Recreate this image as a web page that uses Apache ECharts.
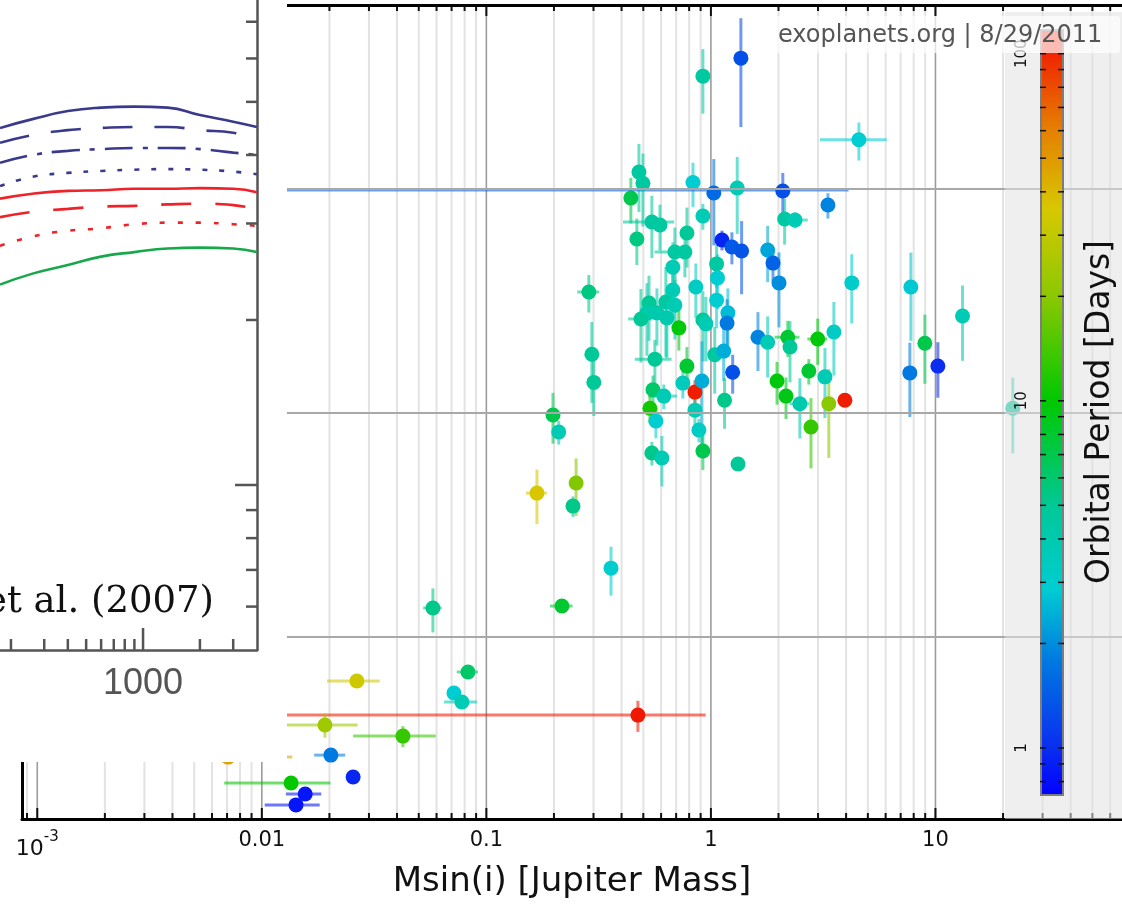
<!DOCTYPE html>
<html><head><meta charset="utf-8">
<script src="https://cdn.jsdelivr.net/npm/echarts@6.0.0/dist/echarts.min.js"></script>
<style>html,body{margin:0;padding:0;background:#fff}#c{width:1122px;height:911px}</style>
</head><body><div id="c"></div>
<script>
// ---------------- main scatter data ----------------
const massJ = [0.921,1.36,4.56,0.478,0.498,0.440,0.832,1.03,1.31,2.09,0.0015,3.32,0.921,0.546,0.593,0.782,0.468,2.13,2.37,1.12,1.24,1.37,1.79,1.89,0.691,0.766,1.06,0.677,0.286,0.677,0.857,1.07,2.01,1.06,1.19,1.18,0.630,0.691,0.530,0.575,0.519,0.488,0.637,0.720,0.921,0.950,0.295,0.563,0.782,1.04,1.14,1.25,1.62,1.79,2.20,2.25,2.99,3.53,4.24,7.77,13.2,8.97,7.69,10.25,2.73,3.22,0.301,0.552,0.617,0.750,0.849,0.912,1.15,1.97,2.16,2.49,3.35,3.95,2.79,0.198,0.210,0.535,0.569,0.849,0.884,0.921,0.546,0.605,1.32,0.168,0.251,0.243,0.359,0.217,0.0578,0.0717,0.0778,0.0828,0.473,0.0265,0.0191,0.0425,0.0203,0.00707,0.0255,0.0135,0.0156,0.0142,22.1];
const massErr = [0,0,1.5,0,0,0,0,0,0,0,4.1,0,0,0.14,0,0,0,0,0.33,0,0,0,0,0,0.13,0,0,0,0.032,0,0,0,0,0,0,0,0,0,0,0,0,0.06,0,0,0,0,0,0.105,0,0,0,0,0,0,0.28,0,0.3,0,0,0,0,0,0,0,0,0,0,0,0.09,0,0,0,0,0,0,0.25,0,0,0,0,0,0,0.04,0,0.05,0.06,0,0,0,0.018,0,0,0,0.025,0.0055,0,0.013,0.009,0.475,0.0070,0.0076,0.017,0.0032,0.0066,0,0.0067,0.0028,0.0039,0];
const yValue = [31.9,38.4,16.6,11.9,10.6,9.12,10.7,9.60,10.1,9.80,9.90,8.48,7.58,7.12,6.91,6.36,5.98,7.35,7.27,5.92,5.51,5.29,5.34,4.67,5.23,5.23,4.63,4.48,3.47,3.54,3.65,4.01,3.81,3.19,2.80,2.52,3.13,3.03,3.10,2.80,2.80,2.63,2.66,2.40,2.60,2.50,1.83,1.74,1.62,1.82,1.89,1.52,2.18,2.07,2.18,1.97,2.14,2.30,3.81,3.65,2.71,2.05,1.51,1.62,1.54,1.45,1.37,1.27,1.19,1.36,1.24,1.39,1.14,1.39,1.19,1.10,1.10,1.14,0.866,0.980,0.823,1.05,0.921,1.03,0.840,0.677,0.663,0.630,0.592,0.439,0.487,0.384,0.203,0.1375,0.1348,0.0562,0.0513,0.0698,0.0448,0.0636,0.0405,0.0361,0.0297,0.0291,0.0237,0.0223,0.0199,0.0178,1.05];
const yErr = [10.2,19.5,3.2,4.0,3.8,2.1,2.4,4.0,3.8,2.0,0,1.1,1.0,2.2,1.6,1.9,1.4,1.7,0.6,0.6,0.9,1.9,1.5,0.8,1.5,1.2,1.0,1.3,0.66,0.9,1.0,1.1,1.4,0.8,0.8,0.7,1.35,0.9,1.0,0.8,1.0,0.95,0.9,0.5,0.9,0.8,0.72,0.38,0.35,0.6,0.5,0.3,0.64,0.63,0.4,0.6,0.5,0.83,1.3,1.55,1.0,0.7,0.55,0.45,0.2,0.5,0.4,0.2,0.15,0.2,0.16,0.7,0.29,0.3,0.25,0.33,0.47,0,0.3,0.25,0.1,0.15,0.15,0.15,0.1,0.12,0.08,0.16,0,0.12,0.14,0.04,0.05,0,0.03,0,0,0,0.0071,0,0.005,0.0039,0,0,0,0,0,0,0.39];
const periodDays = [4.5,1.3,2.9,4.5,4.5,7,2.9,1.6,3.8,1.3,1.4,1.9,3.8,4.5,4.5,5,5.5,4.5,3.8,0.95,1.4,1.35,2.3,1.5,4.5,4.5,4.5,3.8,5.5,3.8,3.3,2.9,2.0,2.9,2.6,1.8,4.5,3.8,5,4,4,5,4,9.5,5,3.8,5,5,8,4.5,2.4,1.3,1.9,3.8,8,5,9.5,3.3,3.1,2.8,3.8,7,1.8,1.0,8,3.8,5,6.2,3.8,3.5,110,2.4,5.3,9.5,9,4,20,111,13,7,3.8,11,2.9,3.8,3.3,7,5.3,3.8,5,36,19,5.3,3,8,5.3,2.9,3.8,6.2,118,33,23,13,1.8,46,0.95,10.3,0.85,0.84,4.5];

// ---------------- colour scale for orbital period (log10 days) ----------------
const periodStopsLog = [-0.14, 0, 0.25, 0.46, 0.7, 1.0, 1.3, 1.55, 1.8, 2.0, 2.1];
const periodStopColors = [[0,0,255],[10,45,240],[0,120,225],[0,205,210],[0,200,150],[0,200,0],[140,200,0],[215,200,0],[230,120,0],[240,35,0],[240,20,0]];
const colorbarTickLabels = ['1','10','100'];

// ---------------- inset (model curves) ----------------
const insetMass = [175, 260, 400, 600, 900, 1350, 2000, 3000, 4000];
const curveNavySolid  = [4.48, 4.65, 4.81, 4.88, 4.90, 4.88, 4.73, 4.60, 4.50];
const curveNavyDash   = [4.21, 4.35, 4.44, 4.48, 4.50, 4.50, 4.44, 4.39, 4.28];
const curveNavyDashDot= [3.87, 4.00, 4.07, 4.10, 4.12, 4.12, 4.10, 4.04, 4.00];
const curveNavyDot    = [3.51, 3.65, 3.71, 3.74, 3.76, 3.77, 3.76, 3.73, 3.69];
const curveRedSolid   = [3.33, 3.40, 3.44, 3.45, 3.47, 3.47, 3.48, 3.47, 3.42];
const curveRedDash    = [3.08, 3.15, 3.19, 3.22, 3.23, 3.25, 3.26, 3.24, 3.19];
const curveRedDot     = [2.73, 2.84, 2.91, 2.94, 2.99, 3.01, 3.01, 2.99, 2.97];
const curveGreen      = [2.32, 2.43, 2.52, 2.61, 2.66, 2.70, 2.71, 2.70, 2.66];
const insetXTicks = [200,300,400,500,600,700,800,900,1000,2000,3000];
const insetYTicks = [0.6,0.7,0.8,0.9,1,2,3,4,5,6,7];

// ---------------- axis ranges ----------------
const X_MIN = 0.000855, X_MAX = 100, Y_MIN = 0.0154, Y_MAX = 66.3;
const CB_MIN = 0.732, CB_MAX = 117;
const IX_MIN = 175, IX_MAX = 4009, IY_MIN = 0.5, IY_MAX = 7.67;

function periodColor(p, a) {
  const l = Math.log10(p);
  let i = 0;
  while (i < periodStopsLog.length - 2 && l > periodStopsLog[i + 1]) i++;
  let t = (l - periodStopsLog[i]) / (periodStopsLog[i + 1] - periodStopsLog[i]);
  t = Math.max(0, Math.min(1, t));
  const c0 = periodStopColors[i], c1 = periodStopColors[i + 1];
  const c = c0.map((v, k) => Math.round(v + (c1[k] - v) * t));
  return a == null ? 'rgb(' + c.join(',') + ')' : 'rgba(' + c.join(',') + ',' + a + ')';
}

// tick positions (decade multiples)
const mult = [1,2,3,4,5,6,7,8,9];
const xGridData = [];
for (let e = -4; e <= 1; e++) for (const m of mult) {
  const v = m * Math.pow(10, e);
  if (v > X_MIN && v <= X_MAX) xGridData.push([v, 1, m === 1 ? 1 : 0]);
}
const cbTickData = [];
for (let e = -1; e <= 2; e++) for (const m of mult) {
  const v = m * Math.pow(10, e);
  if (v > CB_MIN && v < CB_MAX) cbTickData.push([0.5, v]);
}

const FONT = 'DejaVu Sans';
const chart = echarts.init(document.getElementById('c'), null, {renderer: 'canvas'});

const cbLogMax = Math.log10(CB_MAX), cbLogMin = Math.log10(CB_MIN);
const cbStops = periodStopsLog.map((l, i) => ({
  offset: Math.max(0, Math.min(1, (cbLogMax - l) / (cbLogMax - cbLogMin))),
  color: 'rgb(' + periodStopColors[i].join(',') + ')'
})).sort((a, b) => a.offset - b.offset);

function logLabel(v) {
  const e = Math.round(Math.log10(v));
  if (Math.abs(Math.log10(v) - e) > 1e-6) return '';
  return e;
}

const errData = massJ.map((m, i) => [m, yValue[i], massErr[i], yErr[i], periodDays[i]]);
const ptData = massJ.map((m, i) => [m, yValue[i], periodDays[i]]);

function insetLine(name, vals, color, type) {
  return {
    type: 'line', name, xAxisIndex: 3, yAxisIndex: 2, z: 60, smooth: 0.5, symbol: 'none',
    data: insetMass.map((m, i) => [m, vals[i]]),
    lineStyle: {color, width: 2.6, type}
  };
}

const option = {
  animation: false,
  backgroundColor: '#fff',
  grid: [
    {left: 22, top: 5, width: 1138, height: 814, outerBoundsMode: 'none', containLabel: false},
    {left: 1041, top: 30, width: 22, height: 765, outerBoundsMode: 'none', containLabel: false},
    {left: 0, top: 0, width: 257, height: 650, outerBoundsMode: 'none', containLabel: false}
  ],
  xAxis: [
    {type: 'log', gridIndex: 0, min: X_MIN, max: X_MAX, position: 'bottom', z: 5,
     axisLine: {show: true, lineStyle: {color: '#000', width: 3}},
     axisTick: {show: false}, splitLine: {show: false},
     axisLabel: {show: true, margin: 11, color: '#111', fontFamily: FONT, fontSize: 22,
       showMinLabel: false, showMaxLabel: false,
       formatter: v => { const e = logLabel(v); if (e === '') return '';
         if (e === -3) return '{b|10}{s|-3}';
         return '{n|' + ({'-2': '0.01', '-1': '0.1', '0': '1', '1': '10'}[String(e)] || '') + '}'; },
       rich: {n: {fontFamily: FONT, fontSize: 21, color: '#111'},
              b: {fontFamily: FONT, fontSize: 22, color: '#111', verticalAlign: 'bottom', lineHeight: 30},
              s: {fontFamily: FONT, fontSize: 15, color: '#111', verticalAlign: 'top', lineHeight: 15}}}},
    {type: 'log', gridIndex: 0, min: X_MIN, max: X_MAX, position: 'top', z: 5,
     axisLine: {show: true, lineStyle: {color: '#000', width: 3}},
     axisTick: {show: false}, splitLine: {show: false}, axisLabel: {show: false}},
    {type: 'value', gridIndex: 1, min: 0, max: 1, show: false},
    {type: 'log', gridIndex: 2, min: IX_MIN, max: IX_MAX, position: 'bottom', z: 60,
     axisLine: {show: true, lineStyle: {color: '#555', width: 2.5}},
     axisTick: {show: false}, splitLine: {show: false},
     axisLabel: {show: true, margin: 16, color: '#555', fontFamily: 'Liberation Sans', fontSize: 36,
       showMinLabel: false, showMaxLabel: false,
       formatter: v => (logLabel(v) === 3 ? '1000' : '')}}
  ],
  yAxis: [
    {type: 'log', gridIndex: 0, min: Y_MIN, max: Y_MAX, position: 'left', z: 5,
     axisLine: {show: true, lineStyle: {color: '#000', width: 3}},
     axisTick: {show: false}, axisLabel: {show: false},
     splitLine: {show: true, lineStyle: {color: '#a8a8a8', width: 2}}},
    {type: 'log', gridIndex: 1, min: CB_MIN, max: CB_MAX, position: 'left', z: 20,
     axisLine: {show: false}, axisTick: {show: false}, splitLine: {show: false},
     axisLabel: {show: true, rotate: 90, margin: 11, color: '#111', fontFamily: FONT, fontSize: 15,
       showMinLabel: false, showMaxLabel: false,
       formatter: v => { const e = logLabel(v); return (e === '' ? '' : (colorbarTickLabels[e] || '')); }}},
    {type: 'log', gridIndex: 2, min: IY_MIN, max: IY_MAX, position: 'right', z: 60,
     axisLine: {show: true, lineStyle: {color: '#555', width: 2.5}},
     axisTick: {show: false}, axisLabel: {show: false}, splitLine: {show: false}}
  ],
  series: [
    // vertical grid lines + top/bottom ticks of the main chart
    {type: 'custom', xAxisIndex: 0, yAxisIndex: 0, z: 1, silent: true,
     encode: {x: 0, y: 1}, data: xGridData,
     renderItem: (params, api) => {
       const v = api.value(0), major = api.value(2);
       const top = api.coord([v, Y_MAX]), bot = api.coord([v, Y_MIN]);
       const x = top[0], tl = major ? 11 : 6;
       return {type: 'group', children: [
         {type: 'line', shape: {x1: x, y1: top[1], x2: x, y2: bot[1]},
          style: {stroke: major ? '#9c9c9c' : '#e3e3e3', lineWidth: major ? 1.6 : 2}},
         {type: 'line', shape: {x1: x, y1: bot[1], x2: x, y2: bot[1] - tl}, style: {stroke: '#111', lineWidth: 2}},
         {type: 'line', shape: {x1: x, y1: top[1], x2: x, y2: top[1] + tl}, style: {stroke: '#111', lineWidth: 2}}
       ]};
     }},
    // error bars
    {type: 'custom', xAxisIndex: 0, yAxisIndex: 0, z: 2, silent: true,
     encode: {x: 0, y: 1}, data: errData,
     renderItem: (params, api) => {
       const m = api.value(0), y = api.value(1), mx = api.value(2), ye = api.value(3), p = api.value(4);
       const col = periodColor(p, 0.58), ch = [];
       if (mx > 0) {
         const a = api.coord([Math.max(m - mx, X_MIN), y]), b = api.coord([m + mx, y]);
         ch.push({type: 'line', shape: {x1: a[0], y1: a[1], x2: b[0], y2: b[1]}, style: {stroke: col, lineWidth: 3}});
       }
       if (ye > 0) {
         const a = api.coord([m, Math.max(y - ye, Y_MIN)]), b = api.coord([m, y + ye]);
         ch.push({type: 'line', shape: {x1: a[0], y1: a[1], x2: b[0], y2: b[1]}, style: {stroke: col, lineWidth: 3}});
       }
       return {type: 'group', children: ch};
     }},
    // planets
    {type: 'scatter', xAxisIndex: 0, yAxisIndex: 0, z: 3, symbolSize: 15,
     data: ptData, itemStyle: {opacity: 1, color: params => periodColor(params.value[2])}},
    // colour bar
    {type: 'custom', xAxisIndex: 2, yAxisIndex: 1, z: 20, silent: true,
     encode: {x: 0, y: 1}, data: [[0, CB_MIN]],
     renderItem: (params, api) => {
       const tl = api.coord([0, CB_MAX]), br = api.coord([1, CB_MIN]);
       return {type: 'rect', shape: {x: tl[0], y: tl[1], width: br[0] - tl[0], height: br[1] - tl[1]},
         style: {fill: new echarts.graphic.LinearGradient(0, 0, 0, 1, cbStops), stroke: '#7d7d7d', lineWidth: 2}};
     }},
    {type: 'custom', xAxisIndex: 2, yAxisIndex: 1, z: 21, silent: true,
     encode: {x: 0, y: 1}, data: cbTickData,
     renderItem: (params, api) => {
       const v = api.value(1), l = api.coord([0, v]), r = api.coord([1, v]);
       return {type: 'group', children: [
         {type: 'line', shape: {x1: l[0] - 1, y1: l[1], x2: l[0] + 5, y2: l[1]}, style: {stroke: '#111', lineWidth: 1.5}},
         {type: 'line', shape: {x1: r[0] - 5, y1: r[1], x2: r[0] + 1, y2: r[1]}, style: {stroke: '#111', lineWidth: 1.5}}
       ]};
     }},
    // inset curves
    insetLine('navy solid', curveNavySolid, '#3a3a8c', 'solid'),
    insetLine('navy dash', curveNavyDash, '#3a3a8c', [30, 22]),
    insetLine('navy dash-dot', curveNavyDashDot, '#3a3a8c', [28, 10, 5, 10]),
    insetLine('navy dot', curveNavyDot, '#3a3a8c', [5, 12]),
    insetLine('red solid', curveRedSolid, '#ee2228', 'solid'),
    insetLine('red dash', curveRedDash, '#ee2228', [30, 24]),
    insetLine('red dot', curveRedDot, '#ee2228', [5, 13]),
    insetLine('green solid', curveGreen, '#17a84b', 'solid'),
    // inset ticks
    {type: 'custom', xAxisIndex: 3, yAxisIndex: 2, z: 61, silent: true,
     encode: {x: 0, y: 1}, data: insetXTicks.map(v => [v, IY_MIN]),
     renderItem: (params, api) => {
       const v = api.value(0), p = api.coord([v, IY_MIN]), len = v === 1000 ? 22 : 11;
       return {type: 'line', shape: {x1: p[0], y1: p[1], x2: p[0], y2: p[1] - len}, style: {stroke: '#555', lineWidth: 2.5}};
     }},
    {type: 'custom', xAxisIndex: 3, yAxisIndex: 2, z: 61, silent: true,
     encode: {x: 0, y: 1}, data: insetYTicks.map(v => [IX_MAX, v]),
     renderItem: (params, api) => {
       const v = api.value(1), p = api.coord([IX_MAX, v]), len = v === 1 ? 22 : 11;
       return {type: 'line', shape: {x1: p[0], y1: p[1], x2: p[0] - len, y2: p[1]}, style: {stroke: '#555', lineWidth: 2.5}};
     }}
  ],
  graphic: [
    {type: 'rect', z: 10, silent: true, shape: {x: 1005, y: 12, width: 140, height: 807}, style: {fill: 'rgba(226,226,226,0.55)'}},
    {type: 'rect', z: 50, silent: true, shape: {x: 0, y: 0, width: 287, height: 762}, style: {fill: '#fff'}},
    {type: 'text', z: 62, silent: true, x: 214, y: 602,
     style: {text: 'et al. (2007)', fill: '#111', font: '37px "DejaVu Serif"', textAlign: 'right', textVerticalAlign: 'middle'}},
    {type: 'rect', z: 70, silent: true, shape: {x: 772, y: 16, width: 348, height: 37, r: 3}, style: {fill: 'rgba(255,255,255,0.7)'}},
    {type: 'text', z: 71, silent: true, x: 778, y: 36,
     style: {text: 'exoplanets.org | 8/29/2011', fill: '#555', font: '24px "DejaVu Sans"', textAlign: 'left', textVerticalAlign: 'middle'}},
    {type: 'text', z: 30, silent: true, x: 1100, y: 412, rotation: Math.PI / 2,
     style: {text: 'Orbital Period [Days]', fill: '#111', font: '33px "DejaVu Sans"', textAlign: 'center', textVerticalAlign: 'middle'}},
    {type: 'text', z: 30, silent: true, x: 572, y: 882,
     style: {text: 'Msin(i) [Jupiter Mass]', fill: '#111', font: '34px "DejaVu Sans"', textAlign: 'center', textVerticalAlign: 'middle'}}
  ]
};
chart.setOption(option);
</script>
</body></html>
